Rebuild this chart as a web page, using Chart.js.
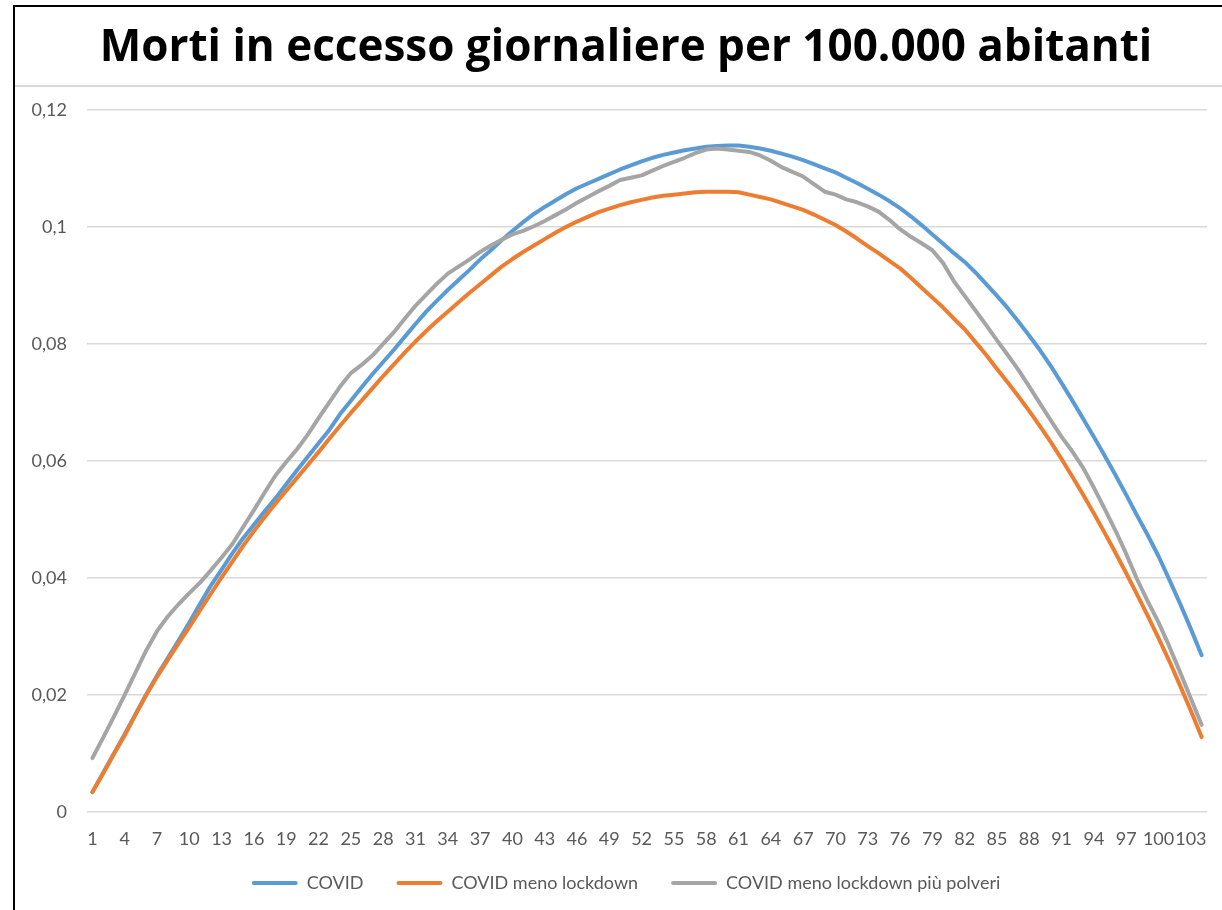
<!DOCTYPE html>
<html>
<head>
<meta charset="utf-8">
<title>Morti in eccesso giornaliere</title>
<script src="https://cdn.jsdelivr.net/npm/chart.js@4"></script>
<style>
    html, body { margin: 0; padding: 0; background: #fff; overflow: hidden; }
    #wrap { position: relative; width: 1222px; height: 910px; }
    #frame { position: absolute; left: 13px; top: 5px; width: 1300px; height: 1000px;
             border-left: 2px solid #000; border-top: 2px solid #000; pointer-events: none; }
    #sep { position: absolute; left: 15px; top: 85px; width: 1300px; height: 2px; background: #d9d9d9; }
    canvas { position: absolute; left: 0; top: 0; }
</style>
</head>
<body>
<div id="wrap">
    <canvas id="excesschart" width="1222" height="910"></canvas>
    <div id="sep"></div>
    <div id="frame"></div>
</div>
<script>
"use strict";

/* day index on the x axis */
var days = [
    1, 2, 3, 4, 5, 6, 7, 8, 9, 10, 11, 12, 13, 14, 15, 16, 17, 18, 19, 20,
    21, 22, 23, 24, 25, 26, 27, 28, 29, 30, 31, 32, 33, 34, 35, 36, 37, 38, 39, 40,
    41, 42, 43, 44, 45, 46, 47, 48, 49, 50, 51, 52, 53, 54, 55, 56, 57, 58, 59, 60,
    61, 62, 63, 64, 65, 66, 67, 68, 69, 70, 71, 72, 73, 74, 75, 76, 77, 78, 79, 80,
    81, 82, 83, 84, 85, 86, 87, 88, 89, 90, 91, 92, 93, 94, 95, 96, 97, 98, 99, 100,
    101, 102, 103, 104
];

/* COVID */
var covid = [
    0.0034, 0.0067, 0.0100, 0.0133, 0.0167, 0.0201, 0.0233, 0.0263, 0.0293, 0.0324,
    0.0356, 0.0387, 0.0414, 0.0442, 0.0468, 0.0491, 0.0514, 0.0536, 0.0560, 0.0584,
    0.0607, 0.0630, 0.0653, 0.0680, 0.0703, 0.0726, 0.0748, 0.0769, 0.0790, 0.0812,
    0.0834, 0.0855, 0.0874, 0.0892, 0.0909, 0.0926, 0.0944, 0.0960, 0.0977, 0.0993,
    0.1008, 0.1022, 0.1034, 0.1045, 0.1056, 0.1066, 0.1074, 0.1082, 0.1090, 0.1098,
    0.1105, 0.1112, 0.1118, 0.1123, 0.1127, 0.1131, 0.1134, 0.1137, 0.1138, 0.1139,
    0.1139, 0.1137, 0.1134, 0.1130, 0.1125, 0.1120, 0.1114, 0.1107, 0.1100, 0.1093,
    0.1084, 0.1075, 0.1065, 0.1055, 0.1044, 0.1032, 0.1018, 0.1003, 0.0987, 0.0971,
    0.0955, 0.0940, 0.0922, 0.0902, 0.0882, 0.0861, 0.0838, 0.0814, 0.0789, 0.0762,
    0.0733, 0.0703, 0.0672, 0.0641, 0.0609, 0.0576, 0.0542, 0.0507, 0.0473, 0.0437,
    0.0397, 0.0356, 0.0313, 0.0268
];

/* COVID meno lockdown */
var menoLockdown = [
    0.0034, 0.0066, 0.0099, 0.0131, 0.0166, 0.0200, 0.0231, 0.0260, 0.0288, 0.0316,
    0.0345, 0.0373, 0.0401, 0.0428, 0.0455, 0.0480, 0.0504, 0.0527, 0.0549, 0.0571,
    0.0593, 0.0615, 0.0638, 0.0660, 0.0682, 0.0703, 0.0724, 0.0745, 0.0765, 0.0785,
    0.0804, 0.0822, 0.0839, 0.0855, 0.0871, 0.0887, 0.0902, 0.0917, 0.0932, 0.0945,
    0.0957, 0.0968, 0.0979, 0.0990, 0.1000, 0.1009, 0.1017, 0.1025, 0.1031, 0.1037,
    0.1042, 0.1046, 0.1050, 0.1053, 0.1055, 0.1057, 0.1059, 0.1060, 0.1060, 0.1060,
    0.1059, 0.1055, 0.1051, 0.1047, 0.1041, 0.1035, 0.1029, 0.1021, 0.1012, 0.1003,
    0.0992, 0.0980, 0.0967, 0.0955, 0.0942, 0.0929, 0.0913, 0.0896, 0.0879, 0.0862,
    0.0843, 0.0825, 0.0803, 0.0781, 0.0757, 0.0734, 0.0710, 0.0685, 0.0659, 0.0632,
    0.0603, 0.0573, 0.0542, 0.0510, 0.0477, 0.0443, 0.0408, 0.0372, 0.0335, 0.0297,
    0.0258, 0.0216, 0.0173, 0.0128
];

/* COVID meno lockdown più polveri */
var piuPolveri = [
    0.0092, 0.0127, 0.0163, 0.0200, 0.0238, 0.0276, 0.0309, 0.0334, 0.0355, 0.0374,
    0.0392, 0.0413, 0.0435, 0.0458, 0.0487, 0.0516, 0.0546, 0.0575, 0.0598, 0.0620,
    0.0645, 0.0673, 0.0700, 0.0727, 0.0750, 0.0764, 0.0780, 0.0800, 0.0820, 0.0843,
    0.0865, 0.0884, 0.0903, 0.0920, 0.0932, 0.0944, 0.0957, 0.0968, 0.0978, 0.0987,
    0.0993, 0.1001, 0.1010, 0.1020, 0.1030, 0.1041, 0.1051, 0.1061, 0.1070, 0.1080,
    0.1084, 0.1088, 0.1096, 0.1104, 0.1111, 0.1118, 0.1126, 0.1132, 0.1134, 0.1132,
    0.1130, 0.1128, 0.1122, 0.1113, 0.1102, 0.1094, 0.1086, 0.1073, 0.1060, 0.1055,
    0.1047, 0.1042, 0.1035, 0.1026, 0.1012, 0.0996, 0.0983, 0.0972, 0.0960, 0.0938,
    0.0907, 0.0882, 0.0857, 0.0832, 0.0806, 0.0781, 0.0755, 0.0727, 0.0698, 0.0669,
    0.0641, 0.0616, 0.0588, 0.0554, 0.0518, 0.0481, 0.0441, 0.0398, 0.0360, 0.0324,
    0.0283, 0.0239, 0.0194, 0.0149
];

var seriesNames = ['COVID', 'COVID meno lockdown', 'COVID meno lockdown più polveri'];
var seriesColors = ['#5b9bd5', '#ed7d31', '#a5a5a5'];

var labelGrey = '#595959';

document.addEventListener("DOMContentLoaded", function () {
    var ctx = document.getElementById('excesschart').getContext('2d');

    function lineSet(i, values) {
        return {
            label: seriesNames[i],
            data: values,
            borderColor: seriesColors[i],
            backgroundColor: seriesColors[i],
            borderWidth: 4,
            borderCapStyle: 'round',
            borderJoinStyle: 'round',
            pointRadius: 0,
            fill: false,
            tension: 0,
            yAxisID: 'y',
            order: 2 - i
        };
    }

    /* legend sits a bit closer to the axis labels than chart.js would put it */
    var legendLift = {
        id: 'legendLift',
        afterLayout: function (chart) {
            chart.legend.top -= 8;
            chart.legend.bottom -= 8;
        }
    };

    var config = {
        type: 'line',
        data: {
            labels: days,
            datasets: [
                lineSet(0, covid),
                lineSet(1, menoLockdown),
                lineSet(2, piuPolveri)
            ]
        },
        options: {
            responsive: false,
            animation: false,
            layout: {
                padding: { left: 30, right: 0, top: 0, bottom: 0 }
            },
            plugins: {
                tooltip: { enabled: false },
                title: {
                    display: true,
                    text: 'Morti in eccesso giornaliere per 100.000 abitanti',
                    color: '#000',
                    font: { family: 'Open Sans', size: 44, weight: 'bold', lineHeight: 1.2 },
                    padding: { top: 22, bottom: 35 }
                },
                legend: {
                    position: 'bottom',
                    labels: {
                        color: labelGrey,
                        font: { family: 'Lato', size: 18 },
                        boxWidth: 46,
                        boxHeight: 4,
                        padding: 33,
                        sort: function (a, b) { return a.datasetIndex - b.datasetIndex; },
                        generateLabels: function (chart) {
                            var items = Chart.defaults.plugins.legend.labels.generateLabels(chart);
                            items.forEach(function (it) {
                                it.lineWidth = 0;
                                it.fillStyle = seriesColors[it.datasetIndex];
                                it.borderRadius = 2;
                            });
                            return items;
                        }
                    }
                }
            },
            scales: {
                x: {
                    offset: true,
                    grid: { display: false, drawTicks: false },
                    border: { display: false },
                    afterFit: function (scale) { scale.height = 37; },
                    ticks: {
                        autoSkip: false,
                        maxRotation: 0,
                        minRotation: 0,
                        padding: 16,
                        color: labelGrey,
                        font: { family: 'Lato', size: 18 },
                        callback: function (value, index) {
                            return index % 3 === 0 ? String(days[index]) : '';
                        }
                    }
                },
                y: {
                    min: 0,
                    max: 0.12,
                    afterFit: function (scale) { scale.width = 57; },
                    grid: { color: '#d9d9d9', lineWidth: 1.5, drawTicks: false },
                    border: { display: false },
                    ticks: {
                        stepSize: 0.02,
                        padding: 20,
                        color: labelGrey,
                        font: { family: 'Lato', size: 18 },
                        callback: function (value) {
                            return String(Number(value.toFixed(2))).replace('.', ',');
                        }
                    }
                },
                /* empty strip on the right, keeps the plot inside the frame */
                yRight: {
                    type: 'linear',
                    position: 'right',
                    grid: { display: false },
                    border: { display: false },
                    ticks: { display: false },
                    afterFit: function (scale) { scale.width = 15; }
                }
            }
        },
        plugins: [legendLift]
    };

    var excessChart = new Chart(ctx, config);
});
</script>
</body>
</html>
